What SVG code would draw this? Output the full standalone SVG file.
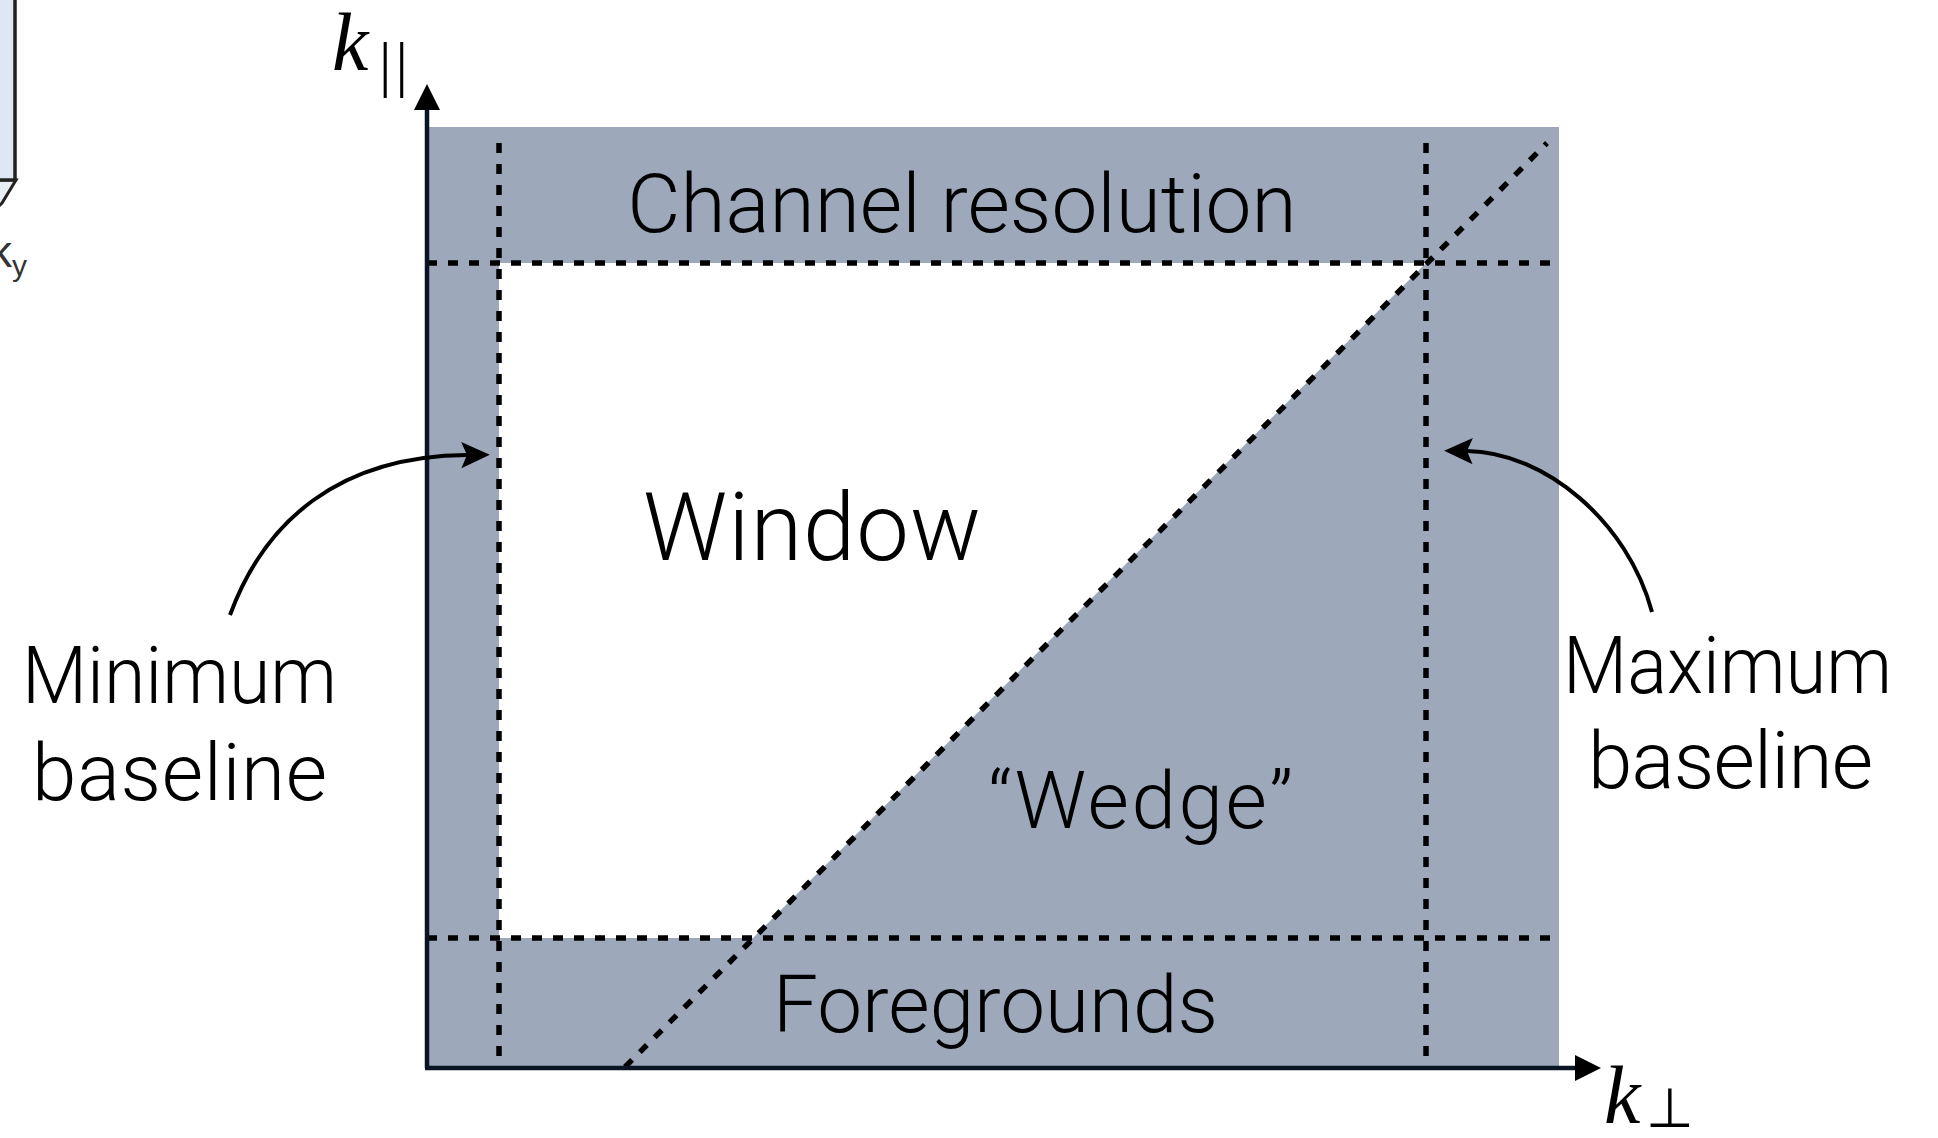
<svg xmlns="http://www.w3.org/2000/svg" width="1938" height="1138" viewBox="0 0 1938 1138">
  <style>
    .lbl { font-family: Roboto, "Liberation Sans", Arial, sans-serif; font-weight: 300; fill: #000; }
    .dash { stroke: #000; stroke-width: 5.5; stroke-dasharray: 10 11; fill: none; }
    .axis { stroke: #0b1424; stroke-width: 4.5; fill: none; }
    .math { font-family: "Liberation Serif", "Times New Roman", serif; font-style: italic; fill: #000; }
    .curve { stroke: #000; stroke-width: 4; fill: none; }
  </style>
  <defs>
    <marker id="head" markerUnits="userSpaceOnUse" markerWidth="40" markerHeight="40" refX="0" refY="0" viewBox="-10 -15 35 30" orient="auto" overflow="visible">
      <path d="M20,0 L-5,-11.5 L0,0 L-5,11.5 Z" fill="#000"/>
    </marker>
  </defs>
  <rect width="1938" height="1138" fill="#fff"/>

  <!-- partial figure at left edge -->
  <g id="partial-figure">
    <polygon points="-5,180 16,180 2,203 -5,210" fill="#e8eef6" stroke="#222" stroke-width="3"/>
    <rect x="-10" y="-10" width="25" height="190" fill="#dde8f4" stroke="#222" stroke-width="3.5"/>
    <text x="-10" y="267" font-family="'Liberation Sans', Arial, sans-serif" font-size="44" fill="#333">k</text>
    <text x="12" y="276" font-family="'Liberation Sans', Arial, sans-serif" font-size="30" fill="#333">y</text>
  </g>

  <g id="plot-area">
    <rect x="427" y="127" width="1132" height="941" fill="#9da9ba"/>
    <polygon id="window-region" points="499,263 1426,263 753,938 499,938" fill="#fff"/>
  </g>

  <g id="connectors">
    <line class="dash" x1="499" y1="143" x2="499" y2="1068"/>
    <line class="dash" x1="1426" y1="143" x2="1426" y2="1068"/>
    <line class="dash" x1="427" y1="263" x2="1559" y2="263"/>
    <line class="dash" x1="427" y1="938" x2="1559" y2="938"/>
    <line class="dash" x1="625" y1="1067" x2="1547" y2="143" stroke="#0d1a2e"/>
    <line class="axis" x1="427" y1="1068" x2="427" y2="105"/>
    <polygon points="427,84 414,110 440,110" fill="#000"/>
    <line class="axis" x1="425" y1="1068" x2="1578" y2="1068"/>
    <polygon points="1601,1068 1575,1055 1575,1081" fill="#000"/>
    <path class="curve" d="M230,615 C265,520 340,456 467,455" marker-end="url(#head)"/>
    <path class="curve" d="M1652,612 C1628,522 1545,452 1467,451" marker-end="url(#head)"/>
  </g>

  <g id="axis-labels">
    <text class="math" x="332" y="70" font-size="82">k</text>
    <text x="379" y="85" font-family="'Liberation Serif', serif" font-size="62" letter-spacing="4">||</text>
    <text class="math" x="1604" y="1123" font-size="82">k</text>
    <text x="1646" y="1127" font-family="'DejaVu Sans', sans-serif" font-size="55">⊥</text>
  </g>

  <g id="label-channel"><text class="lbl" x="962" y="232" font-size="82" text-anchor="middle">Channel resolution</text></g>
  <g id="label-window"><text class="lbl" x="643" y="560" font-size="94" textLength="338" lengthAdjust="spacing">Window</text></g>
  <g id="label-wedge"><text class="lbl" x="988" y="828" font-size="80" textLength="305" lengthAdjust="spacing">“Wedge”</text></g>
  <g id="label-foregrounds"><text class="lbl" x="773" y="1032" font-size="80" textLength="445" lengthAdjust="spacing">Foregrounds</text></g>
  <g id="label-min">
    <text class="lbl" x="22" y="703" font-size="80" textLength="315" lengthAdjust="spacingAndGlyphs">Minimum</text>
    <text class="lbl" x="32" y="800" font-size="80" textLength="295" lengthAdjust="spacing">baseline</text>
  </g>
  <g id="label-max">
    <text class="lbl" x="1563" y="693" font-size="80" textLength="329" lengthAdjust="spacingAndGlyphs">Maximum</text>
    <text class="lbl" x="1588" y="788" font-size="80" textLength="285" lengthAdjust="spacing">baseline</text>
  </g>
</svg>
